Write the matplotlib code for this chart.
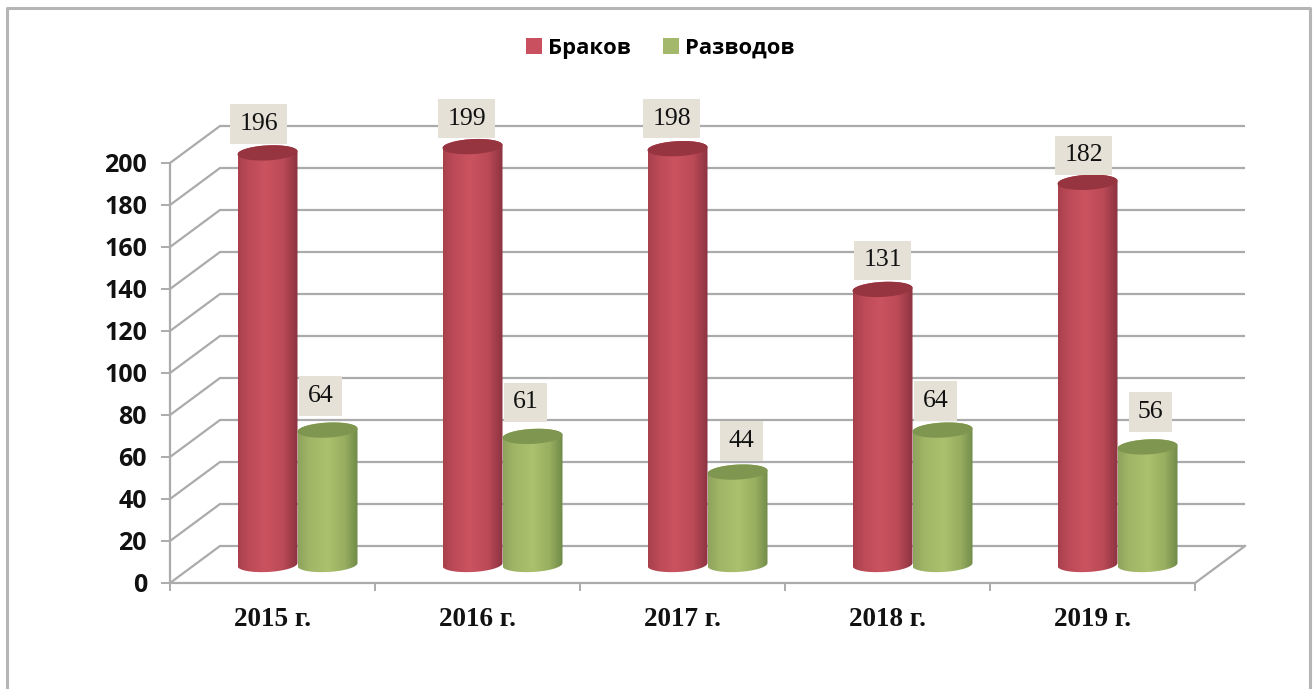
import numpy as np
import matplotlib
matplotlib.use("Agg")
import matplotlib.pyplot as plt
from matplotlib.colors import LinearSegmentedColormap
from matplotlib.lines import Line2D
from matplotlib.patches import Patch, Polygon

categories = ["2015 г.", "2016 г.", "2017 г.", "2018 г.", "2019 г."]
marriages = [196, 199, 198, 131, 182]
divorces = [64, 61, 44, 64, 56]
series_names = ["Браков", "Разводов"]
y_ticks = list(range(0, 201, 20))

W, H = 1316, 689
GRID = "#ABABAB"
SERIF = "Liberation Serif"
SANS = "Open Sans"

# Label offsets from each cylinder's top (pixels: right, up)
marriage_label_offset = [(-9, 29), (-6, 28), (-6, 30), (0, 29), (-4, 27)]
divorce_label_offset = [(-7, 34), (-7, 34), (4, 31), (-7, 29), (3, 35)]

fig = plt.figure(figsize=(W / 100, H / 100), dpi=100, facecolor="white")
# The axes reach above 200 so the cylinders' tops are not cut by the image clipping
left, right, top, bottom = 170, 1195, 121, 583
Y_MAX = 220
ax = fig.add_axes([left / W, 1 - bottom / H, (right - left) / W, (bottom - top) / H])
ax.set_xlim(0, len(categories))
ax.set_ylim(0, Y_MAX)
ax.patch.set_alpha(0)

# Depth of the fake 3D box, in data units
dx = 50 / 205
dy = 37 / 2.1
bar_w = 60 / 205
rx = bar_w / 2
ry = 7.5 / 2.1
tilt = 1.5 / 2.1


def px(a):
    return a * 72 / 100


# Walls
for v in y_ticks:
    ax.plot([0, dx, len(categories) + dx], [v, v + dy, v + dy], color=GRID, lw=1.6,
            clip_on=False, zorder=1, solid_capstyle="butt")
ax.plot([len(categories), len(categories) + dx], [0, dy], color=GRID, lw=1.6,
        clip_on=False, zorder=1)

for side in ("top", "right"):
    ax.spines[side].set_visible(False)
for side in ("left", "bottom"):
    ax.spines[side].set_color(GRID)
    ax.spines[side].set_linewidth(1.6)
    ax.spines[side].set_zorder(1.5)
ax.spines["left"].set_bounds(0, 200)

ax.set_yticks(y_ticks)
ax.set_yticklabels([str(v) for v in y_ticks], family=SANS, fontweight="bold", fontsize=18,
                   color="#111111")
ax.tick_params(axis="y", length=px(9), width=1.4, color=GRID, pad=px(14))
ax.set_xticks(np.arange(len(categories) + 1))
ax.set_xticklabels([])
ax.set_xticks(np.arange(len(categories)) + 0.5, minor=True)
ax.set_xticklabels(categories, minor=True, family=SERIF, fontweight="bold", fontsize=19.5,
                   color="#111111")
ax.tick_params(axis="x", which="major", length=px(8), width=1.4, color=GRID)
ax.tick_params(axis="x", which="minor", length=0, pad=px(24))

red_map = LinearSegmentedColormap.from_list(
    "red", [(0, "#A8404C"), (0.18, "#BC4A57"), (0.45, "#CB5360"), (0.75, "#BC4A57"), (1, "#8C3340")])
green_map = LinearSegmentedColormap.from_list(
    "green", [(0, "#8EA35C"), (0.18, "#A0B566"), (0.5, "#ABC16E"), (0.78, "#98AE60"), (1, "#6F8A48")])
grad = np.linspace(0, 1, 256).reshape(1, -1)


def cylinder(xc, value, cmap, cap):
    yc = value + dy / 2
    y0 = dy / 2
    t = np.linspace(0, np.pi, 60)
    xs_top = xc - rx * np.cos(t)
    ys_top = yc + ry * np.sin(t) + tilt * (xs_top - xc) / rx
    xs_bot = xc + rx * np.cos(t)
    ys_bot = y0 - ry * np.sin(t) + tilt * (xs_bot - xc) / rx
    outline = np.column_stack([np.r_[xs_top, xs_bot], np.r_[ys_top, ys_bot]])
    shape = Polygon(outline, closed=True, transform=ax.transData, fc="none", ec="none")
    ax.add_patch(shape)
    im = ax.imshow(grad, extent=[xc - rx, xc + rx, y0 - 2 * ry, yc + 2 * ry], aspect="auto",
                   cmap=cmap, interpolation="bilinear", zorder=3)
    im.set_clip_path(shape)
    t2 = np.linspace(0, 2 * np.pi, 120)
    xs = xc + rx * np.cos(t2)
    ys = yc + ry * np.sin(t2) + tilt * (xs - xc) / rx
    ax.add_patch(Polygon(np.column_stack([xs, ys]), closed=True, fc=cap, ec="none", zorder=3.1,
                         clip_on=False))


def value_label(xc, value, offset):
    ax.annotate(str(value), xy=(xc, value + dy / 2), xytext=(px(offset[0]), px(offset[1])),
                textcoords="offset points", ha="center", va="center", family=SERIF,
                fontsize=18.5, color="#111111", zorder=5, annotation_clip=False,
                bbox=dict(boxstyle="square,pad=0.34", fc="#E5E1D6", ec="none"))


for i in range(len(categories)):
    cx = i + 0.5 + dx / 2
    for k, (vals, offs, cmap, cap) in enumerate([
        (marriages, marriage_label_offset, red_map, "#96343F"),
        (divorces, divorce_label_offset, green_map, "#7E964F"),
    ]):
        xc = cx + (k - 0.5) * bar_w
        cylinder(xc, vals[i], cmap, cap)
        value_label(xc, vals[i], offs[i])

ax.set_xlim(0, len(categories))
ax.set_ylim(0, Y_MAX)

handles = [Patch(fc="#C9505E", ec="none"), Patch(fc="#A3B86A", ec="none")]
fig.legend(handles, series_names, loc="center", bbox_to_anchor=(660 / W, 1 - 48.5 / H), ncol=2,
           frameon=False, handlelength=0.74, handleheight=0.74, handletextpad=0.28,
           columnspacing=1.45, prop={"family": SANS, "weight": "bold", "size": 15.8})

# Outer frame, open at the bottom
frame = [(7, H), (7, 8), (1310, 8), (1310, H)]
fig.add_artist(Line2D([p[0] / W for p in frame], [1 - p[1] / H for p in frame],
                      transform=fig.transFigure, color="#B5B5B5", lw=2.2))

fig.savefig("out.png", dpi=100)
